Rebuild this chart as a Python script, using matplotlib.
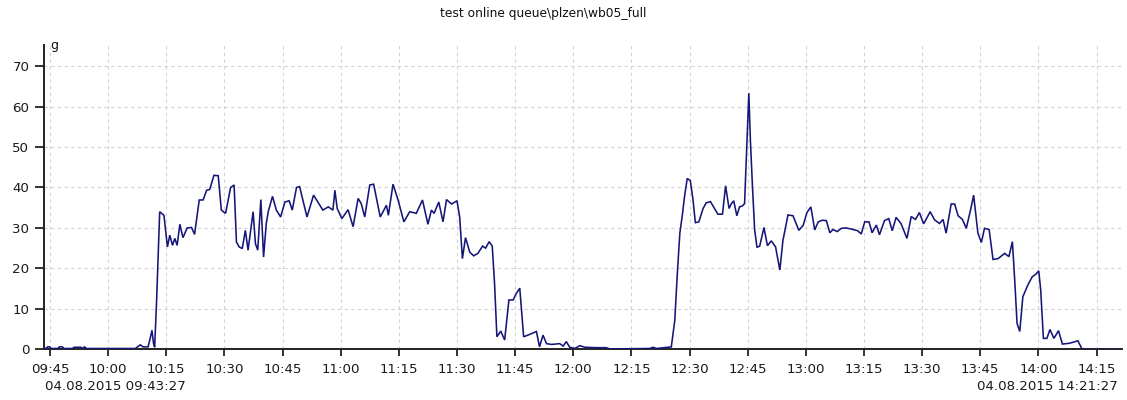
import datetime as dt

import matplotlib
matplotlib.use("Agg")
import matplotlib.pyplot as plt
import matplotlib.dates as mdates

# ---- chart text -------------------------------------------------------
title = "test online queue\\plzen\\wb05_full"
unit = "g"
start_label = "04.08.2015 09:43:27"
end_label = "04.08.2015 14:21:27"

# ---- time range -------------------------------------------------------
t_start = dt.datetime(2015, 8, 4, 9, 43, 27)
t_end = dt.datetime(2015, 8, 4, 14, 21, 27)
t_ref = dt.datetime(2015, 8, 4, 9, 45, 0)

# ---- series: minutes after 09:45 and load in g ------------------------
minutes = [
    -1.55, -1.0, -0.6, -0.1, 0.3, 2.0, 2.4, 3.2, 3.6, 5.8, 6.2, 8.0, 8.4, 8.9, 9.4,
    22.0, 22.6, 23.3, 24.0, 25.3, 25.8, 26.3, 26.7, 27.0, 27.5, 27.9, 28.3,
    29.4, 30.3, 30.9, 31.6, 32.2, 32.8, 33.5, 34.3, 35.4, 36.5, 37.3, 38.5,
    39.5, 40.4, 41.2, 42.3, 43.4, 44.2, 45.3, 46.6, 47.5, 48.1, 48.8, 49.6,
    50.4, 51.1, 52.4, 53.0, 53.6, 54.4, 55.1, 55.8, 56.3, 57.4, 58.4, 59.5,
    60.6, 61.7, 62.5, 63.6, 64.4, 66.3, 68.0, 69.6, 70.4, 71.8, 73.0, 73.5,
    74.1, 75.3, 76.9, 78.2, 79.5, 80.3, 81.2, 82.5, 83.5, 85.2, 86.8, 87.3,
    88.5, 89.8, 91.3, 92.8, 94.5, 96.1, 97.5, 98.4, 99.1, 100.3, 101.4, 102.3,
    103.6, 105.0, 105.7, 106.4, 107.2, 108.3, 109.3, 110.4, 111.6, 112.4, 113.3,
    114.1, 114.7, 115.3, 116.3, 117.3, 118.4, 119.5, 120.3, 121.2, 121.8, 122.2,
    123.3, 125.0, 125.5, 126.3, 127.2, 128.1, 129.4, 131.5, 132.4, 133.2, 134.1,
    135.4, 136.7, 138.0, 141.0, 143.5, 144.4, 154.7, 155.6, 156.5, 160.3, 161.2,
    161.8, 162.5, 163.2, 163.7, 164.4, 165.2, 165.9, 166.5, 167.4, 168.5, 169.3,
    170.4, 171.2, 172.3, 173.5, 174.3, 175.2, 175.8, 176.4, 177.2, 177.9, 178.6,
    179.2, 179.6, 180.3, 180.7, 181.2, 181.8, 182.4, 183.1, 184.2, 185.1, 186.1,
    187.2, 188.3, 189.1, 190.4, 191.7, 193.2, 194.3, 195.3, 196.3, 197.3, 198.2,
    199.3, 200.3, 201.2, 202.0, 203.1, 204.2, 205.4, 207.2, 208.4, 209.3, 210.2,
    211.3, 212.1, 213.2, 214.0, 215.3, 216.4, 217.3, 218.3, 219.6, 221.1, 222.2,
    223.3, 224.3, 225.4, 227.1, 228.2, 229.5, 230.4, 231.2, 232.5, 233.4, 234.3,
    235.4, 236.4, 237.5, 238.3, 239.4, 240.3, 241.1, 242.3, 243.3, 244.6, 246.3,
    247.4, 248.3, 248.9, 249.5, 250.2, 251.0, 252.3, 253.4, 254.4, 255.1, 255.6,
    256.3, 257.2, 258.0, 259.0, 260.2, 261.2, 263.1, 265.2, 266.3, 276.45,
]
load_g = [
    0.3, 0.2, 0.6, 0.6, 0.2, 0.2, 0.6, 0.6, 0.2, 0.2, 0.5, 0.5, 0.2, 0.6, 0.2,
    0.2, 0.6, 1.1, 0.6, 0.6, 2.5, 4.7, 1.5, 0.5, 12.0, 23.3, 34.0,
    33.1, 25.3, 28.2, 25.7, 27.4, 25.7, 30.9, 27.6, 30.0, 30.1, 28.4, 36.9,
    36.9, 39.3, 39.5, 43.0, 42.9, 34.4, 33.6, 40.0, 40.6, 26.5, 25.3, 24.9,
    29.4, 24.5, 34.0, 26.1, 24.5, 37.0, 22.8, 31.1, 34.0, 37.8, 34.4, 32.7,
    36.4, 36.7, 34.4, 40.0, 40.2, 32.7, 38.1, 35.6, 34.4, 35.2, 34.4, 39.3,
    34.8, 32.3, 34.5, 30.3, 37.3, 36.0, 32.7, 40.6, 40.8, 32.7, 35.6, 33.1,
    40.8, 36.9, 31.5, 34.0, 33.6, 36.9, 30.9, 34.4, 33.6, 36.4, 31.5, 37.0,
    35.9, 36.7, 32.7, 22.4, 27.6, 24.0, 23.1, 23.7, 25.5, 25.0, 26.6,
    25.5, 16.2, 3.1, 4.5, 2.3, 12.2, 12.2, 13.8, 15.1, 8.1, 3.1,
    3.5, 4.2, 4.4, 0.6, 3.5, 1.4, 1.2, 1.4, 0.8, 1.9, 0.5,
    0.2, 0.9, 0.5, 0.4, 0.4, 0.1, 0.2, 0.5, 0.2, 0.6, 7.2,
    17.9, 28.7, 33.6, 37.7, 42.2, 41.7, 36.9, 31.3, 31.5, 34.8, 36.2,
    36.5, 35.2, 33.4, 33.4, 40.4, 34.8, 36.0, 36.7, 33.0, 35.2, 35.4,
    36.0, 46.0, 63.3, 51.7, 41.0, 29.5, 25.2, 25.5, 30.1, 25.6, 26.8,
    25.3, 19.6, 26.9, 33.2, 33.0, 29.4, 30.6, 33.8, 35.2, 29.5, 31.5,
    31.9, 31.8, 28.8, 29.6, 29.1, 29.9, 30.0, 29.6, 29.3, 28.5, 31.5,
    31.5, 28.8, 30.7, 28.3, 31.8, 32.3, 29.3, 32.6, 31.0, 27.4, 32.8,
    32.1, 33.8, 31.0, 34.0, 32.0, 31.1, 32.1, 28.7, 35.9, 35.9, 33.0,
    32.1, 29.9, 34.4, 38.1, 28.7, 26.4, 29.9, 29.6, 22.2, 22.4, 23.7,
    22.9, 26.6, 17.1, 6.4, 4.4, 13.0, 15.9, 17.9, 18.6, 19.4, 14.7,
    2.7, 2.7, 4.9, 2.7, 4.6, 1.3, 1.5, 2.1, 0.0, 0.0,
]

y_ticks = [0, 10, 20, 30, 40, 50, 60, 70]
y_max = 75.2

# ---- figure -----------------------------------------------------------
W, H = 1127, 400
fig = plt.figure(figsize=(W / 100, H / 100), dpi=100)
fig.patch.set_facecolor("white")

left_px, right_px, top_px, bottom_px = 44, 1121.5, 45, 349.3
ax = fig.add_axes([left_px / W, 1 - bottom_px / H,
                   (right_px - left_px) / W, (bottom_px - top_px) / H])

times = [t_ref + dt.timedelta(minutes=m) for m in minutes]
ax.plot(times, load_g, color="#16167a", linewidth=1.15, zorder=3,
        solid_joinstyle="miter")

ax.set_xlim(t_start, t_end)
ax.set_ylim(0, y_max)
ax.set_yticks(y_ticks)

ax.xaxis.set_major_locator(mdates.MinuteLocator(byminute=[0, 15, 30, 45]))
ax.xaxis.set_major_formatter(mdates.DateFormatter("%H:%M"))

tick_font = dict(family="DejaVu Sans", size=9.6)
for lab in ax.get_xticklabels() + ax.get_yticklabels():
    lab.set_fontfamily(tick_font["family"])
    lab.set_fontsize(tick_font["size"])
    lab.set_color("#1a1a1a")

ax.tick_params(axis="x", direction="out", length=5, width=1.3,
               color="#222222", pad=5)
ax.tick_params(axis="y", direction="out", length=6.5, width=1.3,
               color="#222222", pad=4)

ax.grid(True, color="#d2d2d2", linestyle=(0, (3, 3)), linewidth=0.8, zorder=0)

for side in ("top", "right"):
    ax.spines[side].set_visible(False)
for side in ("left", "bottom"):
    ax.spines[side].set_linewidth(1.4)
    ax.spines[side].set_color("#222222")

# ---- text -------------------------------------------------------------
fig.text(543 / W, 1 - 13 / H, title, ha="center", va="center",
         fontsize=8.8, family="DejaVu Sans", color="#111111")
fig.text(50 / W, 1 - 45 / H, unit, ha="left", va="center",
         fontsize=9, family="DejaVu Sans", color="#111111")
fig.text(45 / W, 1 - 386 / H, start_label, ha="left", va="center",
         fontsize=9.6, family="DejaVu Sans", color="#1a1a1a")
fig.text(1118 / W, 1 - 386 / H, end_label, ha="right", va="center",
         fontsize=9.6, family="DejaVu Sans", color="#1a1a1a")

fig.savefig("out.png", dpi=100, facecolor="white")
